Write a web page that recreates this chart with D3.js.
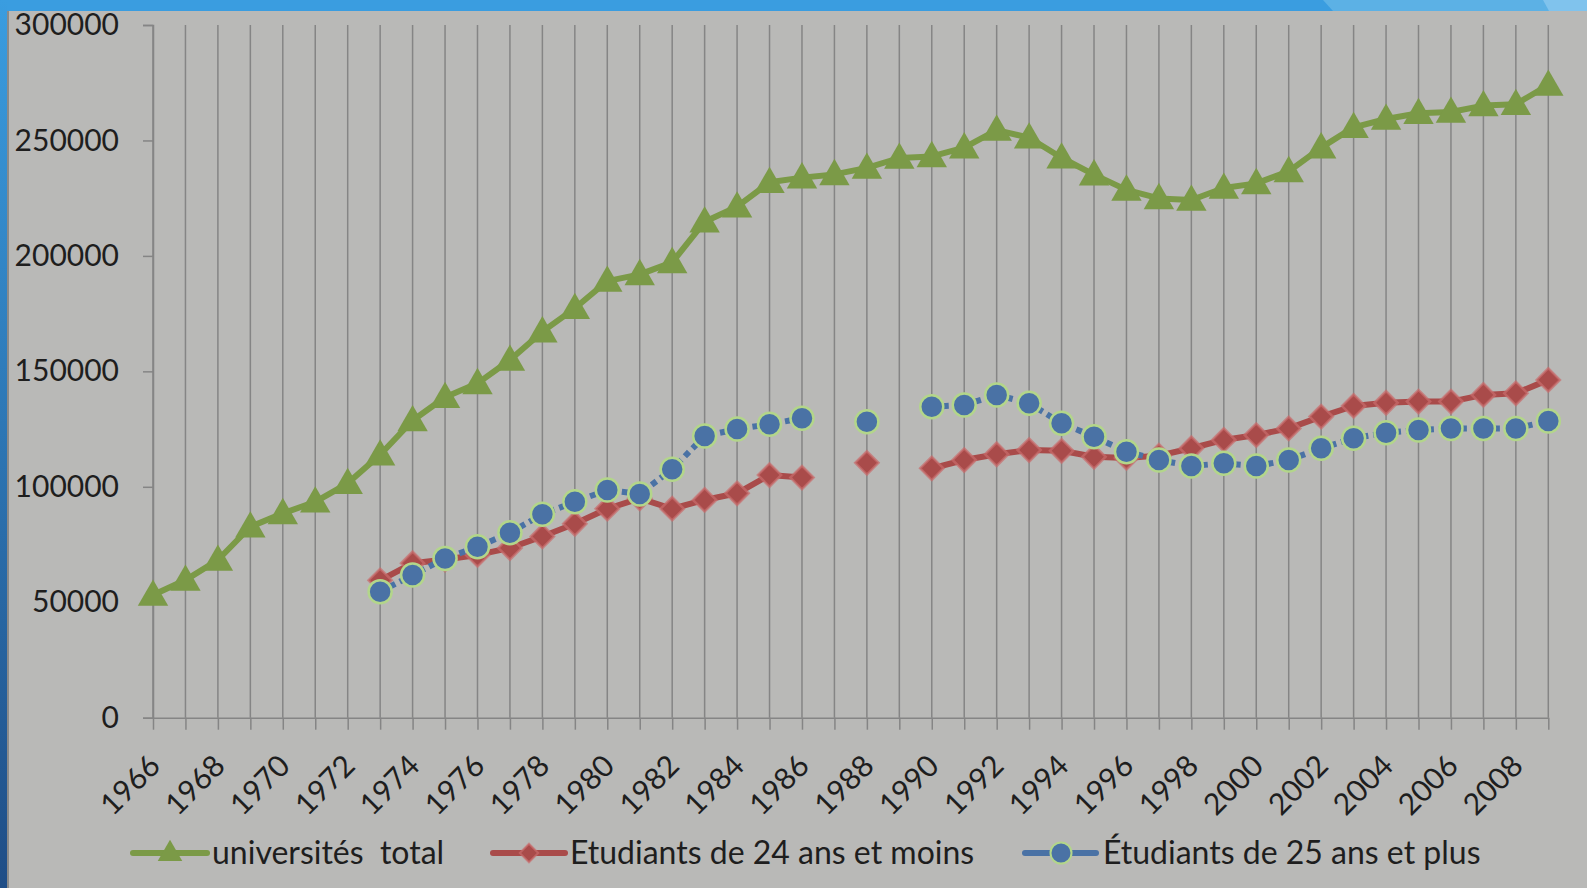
<!DOCTYPE html>
<html>
<head>
<meta charset="utf-8">
<script src="https://cdn.jsdelivr.net/npm/d3@7"></script>
<style>
  body { margin: 0; background: #b9b9b7; }
  svg { display: block; }
  text { font-family: Lato, "Open Sans", sans-serif; fill: #1e1e1e; white-space: pre; }
</style>
</head>
<body>
<div id="chart"></div>
<script>
// data
var years = d3.range(1966, 2010);

var totalValues = [53100, 59600, 68300, 82700, 88500, 93500, 101500, 113900, 128700, 138800,
  144800, 154900, 167200, 177300, 189100, 192000, 197200, 214800, 221300, 231900,
  233900, 235300, 238100, 242400, 243100, 246900, 254500, 251200, 242500, 235200,
  228600, 224900, 224200, 229400, 231400, 236600, 246900, 255700, 259300, 261800,
  262300, 265100, 265700, 274000];

var under24Values = [null, null, null, null, null, null, null, 59500, 66900, 68500,
  70500, 73500, 78500, 84000, 90500, 95000, 90500, 94300, 97200, 105100,
  104000, null, 110400, null, 108000, 111600, 114100, 115900, 115600, 113000,
  112500, 113500, 116700, 120300, 122400, 125300, 130400, 135000, 136400, 136900,
  136900, 139800, 140500, 146300];

var over25Values = [null, null, null, null, null, null, null, 54600, 61800, 69000,
  74000, 80100, 88100, 93500, 98600, 96900, 107600, 122000, 125000, 127100,
  129700, null, 128200, null, 134700, 135400, 139800, 136200, 127500, 121700,
  115200, 111600, 109000, 110200, 109000, 111600, 116700, 121000, 123400, 124600,
  125300, 125300, 125300, 128500];

var yTicks = [0, 50000, 100000, 150000, 200000, 250000, 300000];
var xLabelYears = d3.range(1966, 2009, 2);

var seriesNames = ["universités  total", "Etudiants de 24 ans et moins", "Étudiants de 25 ans et plus"];

var width = 1587, height = 888;

var svg = d3.select("#chart")
  .append("svg")
    .attr("width", width)
    .attr("height", height);

// background and slide decorations
svg.append("rect").attr("width", width).attr("height", height).attr("fill", "#b9b9b7");
svg.append("rect").attr("x", 0).attr("y", 0).attr("width", width).attr("height", 11).attr("fill", "#3a9de0");
svg.append("polygon").attr("points", "1323,0 1587,0 1587,11 1333,11").attr("fill", "#5cb1e5");
svg.append("polygon").attr("points", "1543,0 1587,0 1587,11 1549,11").attr("fill", "#80c3ed");

var grad = svg.append("defs").append("linearGradient")
  .attr("id", "leftbar").attr("x1", 0).attr("y1", 0).attr("x2", 0).attr("y2", 1);
grad.append("stop").attr("offset", "0%").attr("stop-color", "#3a9de0");
grad.append("stop").attr("offset", "100%").attr("stop-color", "#1f4d86");
svg.append("rect").attr("x", 0).attr("y", 0).attr("width", 7).attr("height", height).attr("fill", "url(#leftbar)");
svg.append("rect").attr("x", 7).attr("y", 11).attr("width", 2).attr("height", height - 11).attr("fill", "#8a8a8a");

// scales
var x = d3.scaleLinear().domain([1966, 2009]).range([153, 1548.3]);
var y = d3.scaleLinear().domain([0, 300000]).range([717.7, 25]);

// vertical grid lines, one per year
svg.append("g")
  .selectAll("line")
  .data(years)
  .enter()
  .append("line")
    .attr("x1", function(d) { return x(d); })
    .attr("x2", function(d) { return x(d); })
    .attr("y1", y(300000))
    .attr("y2", y(0))
    .attr("stroke", "#858585")
    .attr("stroke-width", 1.5);

// y axis
var yAxis = svg.append("g")
  .attr("transform", "translate(" + x(1966) + ",0)")
  .call(d3.axisLeft(y).tickValues(yTicks).tickSize(10).tickPadding(24).tickFormat(d3.format("d")));
yAxis.select(".domain").attr("stroke", "#858585").attr("stroke-width", 1.5);
yAxis.selectAll(".tick line").attr("stroke", "#858585").attr("stroke-width", 1.5);
yAxis.selectAll("text").attr("font-size", 30).attr("fill", "#1e1e1e").attr("font-family", "Lato, sans-serif");

// x axis
var xAxis = svg.append("g")
  .attr("transform", "translate(0," + y(0) + ")")
  .call(d3.axisBottom(x).tickValues(years).tickSize(12).tickSizeOuter(0).tickFormat(""));
xAxis.select(".domain").attr("stroke", "#858585").attr("stroke-width", 1.5);
xAxis.selectAll(".tick line").attr("stroke", "#858585").attr("stroke-width", 1.5);

svg.append("g")
  .selectAll("text")
  .data(xLabelYears)
  .enter()
  .append("text")
    .attr("transform", function(d) { return "translate(" + (x(d) + 9) + "," + (y(0) + 50) + ") rotate(-45)"; })
    .attr("text-anchor", "end")
    .attr("font-size", 30)
    .text(function(d) { return d; });

// series
var green = "#7b9a47", red = "#a94b4a", blue = "#4a72a5";

function makeLine(values) {
  return d3.line()
    .defined(function(d, i) { return values[i] != null; })
    .x(function(d) { return x(d); })
    .y(function(d, i) { return y(values[i]); });
}

var triangle = d3.symbol().type(d3.symbolTriangle).size(400);
var diamond = d3.symbol().type(d3.symbolSquare).size(270);

// total
svg.append("path")
  .datum(years)
  .attr("fill", "none")
  .attr("stroke", green)
  .attr("stroke-width", 6)
  .attr("stroke-linejoin", "round")
  .attr("d", makeLine(totalValues));
svg.append("g")
  .selectAll("path")
  .data(years)
  .enter()
  .append("path")
    .attr("d", triangle)
    .attr("transform", function(d, i) { return "translate(" + x(d) + "," + (y(totalValues[i]) + 2) + ")"; })
    .attr("fill", green);

// 24 and under
svg.append("path")
  .datum(years)
  .attr("fill", "none")
  .attr("stroke", red)
  .attr("stroke-width", 6)
  .attr("stroke-linejoin", "round")
  .attr("d", makeLine(under24Values));
svg.append("g")
  .selectAll("path")
  .data(years.filter(function(d, i) { return under24Values[i] != null; }))
  .enter()
  .append("path")
    .attr("d", diamond)
    .attr("transform", function(d) { return "translate(" + x(d) + "," + y(under24Values[d - 1966]) + ") rotate(45)"; })
    .attr("fill", red)
    .attr("stroke", "#c96c6c")
    .attr("stroke-opacity", 0.7)
    .attr("stroke-width", 2.5);

// 25 and over
svg.append("path")
  .datum(years)
  .attr("fill", "none")
  .attr("stroke", blue)
  .attr("stroke-width", 6)
  .attr("stroke-dasharray", "6,5")
  .attr("d", makeLine(over25Values));
svg.append("g")
  .selectAll("circle")
  .data(years.filter(function(d, i) { return over25Values[i] != null; }))
  .enter()
  .append("circle")
    .attr("cx", function(d) { return x(d); })
    .attr("cy", function(d) { return y(over25Values[d - 1966]); })
    .attr("r", 11.5)
    .attr("fill", blue)
    .attr("stroke", "#b3d68a")
    .attr("stroke-width", 2.5);

// legend
var legendY = 853;
var legend = svg.append("g");

legend.append("line").attr("x1", 133).attr("x2", 207).attr("y1", legendY).attr("y2", legendY)
  .attr("stroke", green).attr("stroke-width", 6).attr("stroke-linecap", "round");
legend.append("path").attr("d", d3.symbol().type(d3.symbolTriangle).size(260))
  .attr("transform", "translate(170," + (legendY + 1) + ")").attr("fill", green);
legend.append("text").attr("x", 212).attr("y", legendY + 11).attr("font-size", 32).text(seriesNames[0]);

legend.append("line").attr("x1", 493).attr("x2", 565).attr("y1", legendY).attr("y2", legendY)
  .attr("stroke", red).attr("stroke-width", 6).attr("stroke-linecap", "round");
legend.append("path").attr("d", d3.symbol().type(d3.symbolSquare).size(170))
  .attr("transform", "translate(529," + legendY + ") rotate(45)").attr("fill", red)
  .attr("stroke", "#c96c6c").attr("stroke-opacity", 0.7).attr("stroke-width", 2);
legend.append("text").attr("x", 570).attr("y", legendY + 11).attr("font-size", 32).text(seriesNames[1]);

legend.append("line").attr("x1", 1025).attr("x2", 1096).attr("y1", legendY).attr("y2", legendY)
  .attr("stroke", blue).attr("stroke-width", 6).attr("stroke-linecap", "round");
legend.append("circle").attr("cx", 1061).attr("cy", legendY).attr("r", 10.5)
  .attr("fill", blue).attr("stroke", "#b3d68a").attr("stroke-width", 2);
legend.append("text").attr("x", 1103).attr("y", legendY + 11).attr("font-size", 32).text(seriesNames[2]);
</script>
</body>
</html>
